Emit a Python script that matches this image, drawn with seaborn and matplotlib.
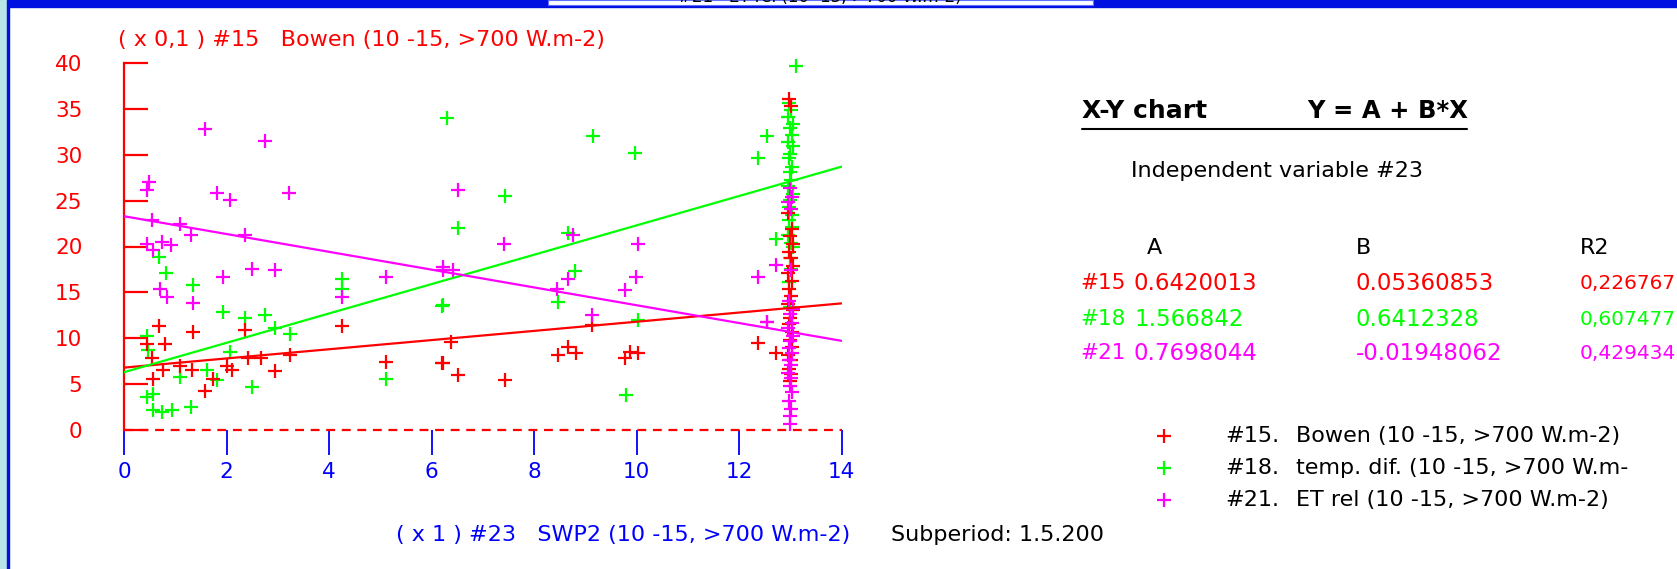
import matplotlib
matplotlib.use("Agg")
import matplotlib.pyplot as plt
import seaborn as sns
from matplotlib.patches import Rectangle

# ---- data (Y in units of x0.1, X in units of x1) ----
red_x = [0.68, 1.34, 2.36, 4.25, 0.80, 0.44, 0.54, 0.77, 0.57, 1.09, 1.32, 1.74, 1.58,
         2.00, 2.10, 2.41, 2.67, 2.95, 3.24, 5.12, 6.22, 6.39, 6.20, 6.52, 7.43, 8.47,
         8.67, 8.82, 9.14, 9.78, 9.87, 10.02, 12.38, 12.73, 12.54]
red_y = [11.3, 10.7, 10.9, 11.3, 9.4, 9.4, 7.8, 6.5, 5.6, 7.0, 6.5, 5.6, 4.2,
         7.0, 6.5, 7.8, 7.8, 6.4, 8.2, 7.4, 7.3, 9.6, 7.3, 6.0, 5.4, 8.2,
         9.1, 8.4, 11.4, 7.8, 8.5, 8.4, 9.5, 8.4, 11.8]

green_x = [6.30, 0.69, 0.81, 1.34, 1.94, 2.36, 2.76, 2.95, 3.23, 2.07, 4.25, 4.25,
           6.22, 5.12, 1.09, 1.61, 1.81, 2.49, 0.44, 0.57, 0.74, 0.93, 1.31, 0.44,
           0.47, 0.57, 9.16, 9.97, 7.43, 6.52, 8.67, 8.80, 8.47, 6.20, 10.02, 9.80,
           12.38, 12.55, 12.73, 13.11]
green_y = [34.0, 18.9, 17.1, 15.8, 12.9, 12.2, 12.5, 11.1, 10.5, 8.5, 16.5, 15.4,
           13.6, 5.6, 5.8, 6.5, 5.4, 4.7, 3.6, 2.2, 2.0, 2.2, 2.5, 10.2,
           8.7, 3.9, 32.0, 30.2, 25.5, 22.0, 21.5, 17.3, 14.0, 13.5, 12.0, 3.8,
           29.6, 32.0, 20.8, 39.7]

magenta_x = [1.58, 2.76, 0.49, 0.44, 1.81, 2.07, 3.21, 0.55, 1.09, 1.30, 2.36, 0.44,
             0.74, 0.91, 0.57, 1.94, 2.49, 2.95, 0.70, 0.83, 1.34, 4.25, 5.12, 6.23,
             6.52, 7.42, 8.77, 6.23, 6.42, 8.44, 8.67, 9.14, 9.78, 9.99, 10.02, 12.38,
             12.72, 12.54]
magenta_y = [32.8, 31.5, 27.0, 26.2, 25.8, 25.1, 25.8, 22.9, 22.5, 21.3, 21.3, 20.3,
             20.5, 20.2, 19.6, 16.7, 17.6, 17.4, 15.4, 14.5, 13.8, 14.5, 16.7, 17.4,
             26.2, 20.3, 21.3, 17.8, 17.4, 15.4, 16.5, 12.5, 15.3, 16.7, 20.3, 16.7,
             18.0, 11.8]

# dense column of readings at X ~ 13
col_green_x = [12.98, 13.02, 12.95, 13.05, 12.99, 13.03, 12.96, 13.06, 13.00, 12.97,
               13.04, 12.99, 13.02, 12.95, 13.05, 13.00, 12.97, 13.03, 12.98, 13.04,
               12.96, 13.01, 13.05, 12.99, 13.02, 12.98, 13.00]
col_green_y = [35.6, 34.9, 34.1, 33.4, 32.9, 32.1, 31.4, 30.9, 30.1, 29.6, 28.7, 28.1,
               27.3, 26.6, 25.7, 25.1, 24.3, 23.4, 22.9, 22.1, 21.3, 20.4, 19.9, 18.7,
               17.6, 16.1, 13.4]
col_red_x = [12.98, 13.02, 12.96, 13.04, 12.99, 13.05, 12.97, 13.01, 13.06, 12.95,
             13.03, 12.98, 13.02, 12.96, 13.05, 13.00, 12.97, 13.04, 12.99, 13.03,
             12.96, 13.01, 12.98, 13.02, 13.00]
col_red_y = [36.1, 35.3, 23.6, 21.9, 21.1, 20.3, 19.4, 18.7, 17.9, 17.1, 16.2, 15.4,
             14.6, 13.7, 13.1, 12.2, 11.5, 10.7, 9.8, 9.1, 8.2, 7.6, 6.7, 6.1, 5.3]
col_magenta_x = [12.99, 13.03, 12.96, 13.01, 13.02, 12.97, 13.05, 12.99, 13.03, 12.96,
                 13.06, 13.00, 12.97, 13.04, 12.98, 13.02, 12.96, 13.01, 12.99, 13.03,
                 12.98, 13.01, 12.99, 13.00]
col_magenta_y = [26.4, 25.4, 24.9, 24.1, 17.4, 14.1, 13.2, 12.6, 11.7, 11.1, 10.2, 9.7,
                 8.9, 8.4, 7.6, 7.1, 6.2, 5.7, 4.8, 4.1, 3.2, 2.3, 1.5, 0.7]

# fitted lines as drawn on the chart (chart units)
fit_intercept = [6.8, 6.3, 23.3]
fit_slope = [0.50, 1.60, -0.97]
fit_x = [0, 14]

# table values
series_ids = ["#15", "#18", "#21"]
coef_a = ["0.6420013", "1.566842", "0.7698044"]
coef_b = ["0.05360853", "0.6412328", "-0.01948062"]
coef_r2 = ["0,226767", "0,607477", "0,429434"]
legend_names = ["Bowen (10 -15, >700 W.m-2)", "temp. dif. (10 -15, >700 W.m-",
                "ET rel (10 -15, >700 W.m-2)"]
colors = ["#ff0000", "#00ff00", "#ff00ff"]

x_ticks = [0, 2, 4, 6, 8, 10, 12, 14]
y_ticks = [0, 5, 10, 15, 20, 25, 30, 35, 40]

# ---- styling ----
sns.set_theme(style="white")
plt.rcParams["font.family"] = ["DejaVu Sans"]
plt.rcParams["text.color"] = "black"

W, H = 1677, 569
fig = plt.figure(figsize=(W / 100, H / 100), dpi=100)
fig.patch.set_facecolor("white")

ax = fig.add_axes([124 / W, 1 - 430 / H, (841.5 - 124) / W, (430 - 63) / H])
ax.set_facecolor("none")

# scatter groups
groups = [
    (green_x + col_green_x, green_y + col_green_y, colors[1]),
    (red_x + col_red_x, red_y + col_red_y, colors[0]),
    (magenta_x + col_magenta_x, magenta_y + col_magenta_y, colors[2]),
]
for gx, gy, c in groups:
    sns.scatterplot(x=gx, y=gy, marker="+", s=110, color=c, linewidth=1.6,
                    ax=ax, clip_on=False, zorder=3)

for a, b, c in zip(fit_intercept, fit_slope, colors):
    sns.lineplot(x=fit_x, y=[a + b * v for v in fit_x], color=c, linewidth=1.6,
                 ax=ax, zorder=4)

ax.set_xlim(0, 14)
ax.set_ylim(0, 40)
ax.set_xticks(x_ticks)
ax.set_yticks(y_ticks)
ax.set_xticklabels([str(t) for t in x_ticks], color="#0000ff", fontsize=15.5)
ax.set_yticklabels([str(t) for t in y_ticks], color="#ff0000", fontsize=15.5)
ax.tick_params(axis="y", direction="in", length=17, width=1.6, color="#ff0000",
               pad=30, left=True)
ax.tick_params(axis="x", direction="out", length=18, width=1.3, color="#0000ff",
               pad=5, bottom=True)
for s in ["top", "right", "bottom"]:
    ax.spines[s].set_visible(False)
ax.spines["left"].set_color("#ff0000")
ax.spines["left"].set_linewidth(1.6)
ax.axhline(0, color="#ff0000", linestyle=(0, (4, 3)), linewidth=1.6, clip_on=False)
ax.grid(False)

# ---- overlay in pixel coordinates for the text panel and frame ----
ov = fig.add_axes([0, 0, 1, 1], zorder=-1)
ov.set_xlim(0, W)
ov.set_ylim(H, 0)
ov.axis("off")
ov.add_patch(Rectangle((0, 0), W, 7, color="#0010e0"))
ov.add_patch(Rectangle((548, 0), 545, 5, facecolor="white", edgecolor="#6070ff",
                       linewidth=0.8))
ov.add_patch(Rectangle((0, 0), 7, H, color="#b8e4e8"))
ov.add_patch(Rectangle((7, 0), 2, H, color="#0010e0"))
ov.text(820, -3, "#21   ET rel (10 -15, >700 W.m-2)", ha="center", va="center",
        fontsize=12, color="black", clip_on=True)

TXT = 16
ov.text(118, 40, "( x 0,1 ) #15   Bowen (10 -15, >700 W.m-2)", color="#ff0000",
        fontsize=TXT, va="center", ha="left")
ov.text(396, 535, "( x 1 ) #23   SWP2 (10 -15, >700 W.m-2)", color="#0000ff",
        fontsize=TXT, va="center", ha="left")
ov.text(891, 535, "Subperiod: 1.5.200", color="black", fontsize=TXT,
        va="center", ha="left")

ov.text(1082, 111, "X-Y chart", fontsize=18, fontweight="bold", va="center")
ov.text(1307, 111, "Y = A + B*X", fontsize=17.5, fontweight="bold", va="center")
ov.plot([1082, 1467], [129, 129], color="black", linewidth=1.5)
ov.text(1131, 171, "Independent variable #23", fontsize=TXT, va="center")
ov.text(1147, 248, "A", fontsize=TXT, va="center")
ov.text(1356, 248, "B", fontsize=TXT, va="center")
ov.text(1580, 248, "R2", fontsize=TXT, va="center")

rows_y = [283, 319, 353]
for i, yy in enumerate(rows_y):
    c = colors[i]
    ov.text(1080, yy, series_ids[i], color=c, fontsize=15.5, va="center")
    ov.text(1134, yy, coef_a[i], color=c, fontsize=16.5, va="center")
    ov.text(1356, yy, coef_b[i], color=c, fontsize=16.5, va="center")
    ov.text(1580, yy, coef_r2[i], color=c, fontsize=14.5, va="center")

leg_y = [436, 468, 500]
for i, yy in enumerate(leg_y):
    ov.scatter([1164], [yy], marker="+", s=110, color=colors[i], linewidths=1.6)
    ov.text(1225, yy, series_ids[i] + ".", fontsize=TXT, va="center")
    ov.text(1296, yy, legend_names[i], fontsize=TXT, va="center")

fig.savefig("out.png", dpi=100)
